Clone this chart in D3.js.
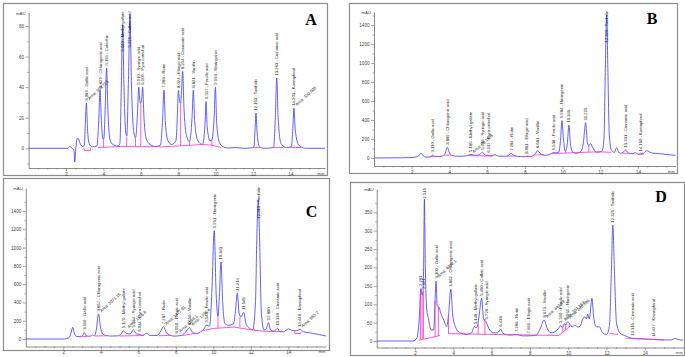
<!DOCTYPE html>
<html>
<head>
<meta charset="utf-8">
<script src="https://cdn.jsdelivr.net/npm/d3@7"></script>
<style>
  body { margin: 0; background: #fff; }
</style>
</head>
<body>
<svg id="chart" width="685" height="357"></svg>
<script>
// ---- panel A ----
var traceA = [[0,0],[2.1,0],[2.2,1.2],[2.3,0.2],[2.42,-1],[2.47,-9],[2.52,-1],[2.6,6.5],[2.68,6],[2.76,3],[2.9,1.2],[2.98,2],
  [3.03,15],[3.09,29.5],[3.15,13],[3.24,3],[3.4,1],[3.65,1.5],
  [3.75,18],[3.82,38],[3.89,18],[3.98,6],[4.02,6],
  [4.1,28],[4.17,52.5],[4.24,25],[4.35,6],[4.5,2.5],[4.75,1.5],[4.88,3],
  [4.96,42],[5.03,81],[5.1,40],[5.2,10],[5.25,8],
  [5.34,45],[5.42,87.4],[5.5,42],[5.62,11],[5.72,7],
  [5.82,22],[5.89,40],[5.95,31],[6.0,29.5],[6.05,33],[6.1,40],[6.17,20],[6.3,6],[6.5,2.5],[6.8,1.2],[7.05,2],
  [7.17,20],[7.24,38],[7.31,18],[7.45,5],[7.65,2.5],[7.88,5],
  [7.95,20],[8.01,37.8],[8.08,31],[8.13,29.5],[8.18,38],[8.24,50.3],[8.31,26],[8.45,8],[8.6,4.4],
  [8.74,20],[8.81,38],[8.88,18],[9.05,5],[9.3,2.5],
  [9.43,15],[9.49,30.6],[9.55,14],[9.7,5],[9.8,5.5],
  [9.92,20],[9.99,40],[10.06,16],[10.2,4],[10.4,1],[10.7,0.2],[11.1,0.5],[11.5,0],[11.9,0.3],[12.05,1],
  [12.11,12],[12.16,23],[12.22,10],[12.35,1],[12.6,0],[13.1,0.5],
  [13.2,22],[13.27,46],[13.34,21],[13.5,3],[13.8,0.5],[14.05,1],
  [14.13,13],[14.19,26.2],[14.26,12],[14.45,2],[14.8,0],[15.85,0]];
var labelsA = [[3.09,29.5,"3.089 - Gallic acid"],[3.82,38,"3.829 - Chlorogenic acid"],[4.17,52.5,"4.155 - Catechin"],
  [5.03,81,"5.040 - Methyl gallate"],[5.42,87.4,"5.429 - Caffeic acid"],[5.89,40,"5.910 - Syringic acid"],
  [6.1,40,"6.109 - Pyro catechol"],[7.24,38,"7.286 - Rutin"],[8.01,37.8,"8.024 - Ellagic acid"],
  [8.24,50.3,"8.254 - Coumaric acid"],[8.81,38,"8.821 - Vanillin"],[9.49,30.6,"9.517 - Ferulic acid"],
  [9.99,40,"9.993 - Naringenin"],[12.16,23,"12.163 - Taxifolin"],[13.27,46,"13.263 - Cinnamic acid"],
  [14.19,26.2,"14.203 - Kaempferol"]];
var areasA = [[3.2,31,"Area: 309.728"],[14.3,27,"Area: 330.505"]];
var baseA = [[[2.95,0],[3.0,-1.5],[3.3,-1.5],[3.3,0.5]],
  [[3.7,0.5],[4.55,1],[4.9,1.2],[6.8,1],[7.1,1],[8.0,1.5],[9.3,2.5],[9.8,2],[10.3,0.5]],
  [[12.0,0.5],[12.4,0.5]],[[13.05,0.5],[13.6,0.5]],[[14.0,0.5],[14.6,0.5]]];
var dropsA = [[4.0,0.8,5.5],[5.25,1.2,7.7],[5.72,1.2,7],[6.0,1.2,29.5],[8.13,1.5,29.5],[8.6,1.8,4.4],[9.8,2,5.5]];
var yMajorA = [0,20,40,60,80];
var yMinorA = [-10,10,30,50,70];

// ---- panel B ----
var traceB = [[0,0],[1.5,2],[2.2,8],[2.38,25],[2.49,49],[2.6,25],[2.75,10],[3.0,12],[3.11,32],[3.22,15],[3.5,15],
  [3.75,40],[3.89,112],[4.0,55],[4.15,25],[4.5,18],[4.9,22],[5.13,38],[5.3,30],[5.45,28],[5.62,40],[5.76,60],
  [5.9,30],[6.06,28],[6.2,22],[6.42,35],[6.6,20],[7.0,18],[7.15,30],[7.27,49],[7.4,28],[7.6,18],[7.95,14],
  [8.1,18],[8.3,15],[8.55,45],[8.68,77],[8.85,40],[9.1,28],[9.35,40],[9.51,56],[9.65,55],[9.8,60],[9.9,200],
  [9.97,393],[10.05,200],[10.15,70],[10.25,140],[10.34,347],[10.42,150],[10.55,60],[10.73,49],[10.9,60],
  [11.02,84],[11.1,150],[11.23,372],[11.32,160],[11.4,130],[11.49,154],[11.6,110],[11.8,60],[12.0,65],
  [12.1,74],[12.2,200],[12.27,900],[12.34,1505],[12.41,900],[12.48,250],[12.6,80],[12.75,60],[12.87,109],
  [12.98,60],[13.09,50],[13.22,60],[13.35,84],[13.5,50],[13.7,45],[13.85,56],[14.0,40],[14.16,42],[14.3,50],
  [14.47,77],[14.7,55],[14.91,49],[15.2,45],[15.6,35],[16,28]];
var labelsB = [[3.11,32,"3.110 - Gallic acid"],[3.89,112,"3.889 - Chlorogenic acid"],[5.13,38,"5.185 - Methyl gallate"],
  [5.76,60,"5.716 - Syringic acid"],[6.06,28,"6.137 - Pyro catechol"],[7.27,49,"7.284 - Rutin"],
  [8.1,18,"8.081 - Ellagic acid"],[8.68,77,"8.681 - Vanillin"],[9.51,56,"9.538 - Ferulic acid"],
  [9.97,393,"9.984 - Naringenin"],[10.34,347,"10.346"],[11.23,372,"11.215"],[12.34,1505,"12.326 - Taxifolin"],
  [13.35,84,"13.331 - Cinnamic acid"],[14.16,42,"14.160 - Kaempferol"]];
var areasB = [[5.25,40,"Area: 80.1685"]];
var baseB = [[[3.0,15],[3.3,18]],[[3.7,30],[4.1,30]],[[5.0,25],[6.3,20]],[[7.05,20],[7.55,22]],[[7.9,14],[8.35,18]],
  [[8.5,30],[9.0,35]],[[9.4,45],[10.5,55],[11.9,65],[12.6,60]],[[13.2,50],[13.5,50]],[[14.0,38],[14.3,40]]];
var dropsB = [[10.17,52,70],[11.4,62,130]];
var yMajorB = [0,200,400,600,800,1000,1200,1400];
var yMinorB = [100,300,500,700,900,1100,1300,1500];

// ---- panel C ----
var traceC = [[0,0],[2.05,0],[2.3,15],[2.42,70],[2.5,128],[2.58,70],[2.7,28],[2.95,25],[3.05,45],[3.12,73],[3.2,40],
  [3.35,30],[3.5,35],[3.57,44],[3.65,32],[3.75,90],[3.88,274],[3.98,130],[4.1,55],[4.31,37],[4.6,32],[4.9,35],
  [5.1,60],[5.2,91],[5.3,70],[5.4,60],[5.55,55],[5.74,99],[5.9,55],[6.06,51],[6.2,40],[6.45,62],[6.6,40],[7.0,38],
  [7.15,70],[7.34,135],[7.5,70],[7.7,40],[7.9,32],[8.05,33],[8.3,40],[8.5,70],[8.72,124],[8.9,70],[9.1,60],
  [9.3,75],[9.5,110],[9.65,153],[9.8,140],[9.92,500],[10.05,1185],[10.15,500],[10.25,250],[10.33,500],
  [10.41,841],[10.5,400],[10.62,170],[10.8,150],[11.07,165],[11.18,300],[11.28,501],[11.38,280],[11.48,240],
  [11.62,292],[11.75,160],[11.87,130],[12.1,100],[12.25,400],[12.32,1100],[12.4,1525],[12.48,1000],[12.56,300],
  [12.7,100],[12.82,110],[12.94,179],[13.05,100],[13.25,85],[13.42,117],[13.55,80],[13.75,80],[14.0,110],
  [14.2,95],[14.45,90],[14.62,106],[14.8,80],[15.2,65],[15.6,50],[16,33]];
var labelsC = [[3.12,73,"3.110 - Gallic acid"],[3.88,274,"3.867 - Chlorogenic acid"],[5.2,91,"5.170 - Methyl gallate"],
  [5.74,99,"5.734 - Syringic acid"],[6.06,51,"6.034 - Pyro catechol"],[7.34,135,"7.287 - Rutin"],
  [8.05,33,"8.050 - Ellagic acid"],[8.72,124,"8.650 - Vanillin"],[9.65,153,"9.549 - Ferulic acid"],
  [10.05,1185,"9.951 - Naringenin"],[10.41,841,"10.343"],[11.28,501,"11.214"],[11.62,292,"11.548"],
  [12.4,1525,"12.319 - Taxifolin"],[12.94,179,"12.880"],[13.42,117,"13.330 - Cinnamic acid"],
  [14.62,106,"14.440 - Kaempferol"]];
var areasC = [[3.98,280,"Area: 3071.15"],[5.45,105,"Area: 1126.6"],[7.45,140,"Area: 1477.91"],
  [8.2,60,"Area: 1188.1"],[8.85,130,"Area: 1236.4"],[14.72,115,"Area: 683.7"]];
var baseC = [[[3.0,25],[3.3,30]],[[3.7,33],[4.3,35]],[[5.0,33],[6.3,38]],[[7.1,36],[7.7,38]],[[8.35,38],[9.0,60]],
  [[9.4,90],[10.0,115],[10.7,125],[11.1,130],[11.9,105],[12.2,95],[12.7,85],[13.6,80]],
  [[14.35,60],[14.65,60],[14.7,80]]];
var dropsC = [[10.25,115,250],[11.42,128,240],[12.2,95,110],[14.35,60,90]];
var yMajorC = [0,200,400,600,800,1000,1200,1400];
var yMinorC = [100,300,500,700,900,1100,1300,1500];

// ---- panel D ----
var traceD = [[0,0],[1.9,0],[2.1,8],[2.22,60],[2.31,143],[2.37,125],[2.42,135],[2.45,200],[2.49,385],[2.54,200],
  [2.6,95],[2.7,61],[2.85,30],[2.98,30],[3.04,100],[3.1,163],[3.16,95],[3.24,93],[3.35,75],[3.5,57],[3.65,39],
  [3.75,70],[3.87,141],[3.97,70],[4.1,40],[4.35,22],[4.7,18],[4.95,22],[5.1,39],[5.18,36],[5.25,39],[5.35,70],
  [5.48,116],[5.58,60],[5.71,52],[5.85,35],[6.1,22],[6.3,22],[6.48,32],[6.6,20],[7.0,16],[7.31,18],[7.6,14],
  [7.92,14],[8.3,15],[8.55,35],[8.74,57],[8.9,35],[9.1,22],[9.3,25],[9.5,35],[9.61,42],[9.7,36],[9.78,47],
  [9.88,44],[9.97,52],[10.1,45],[10.2,38],[10.35,43],[10.5,38],[10.62,40],[10.75,58],[10.88,66],[10.95,60],
  [11.02,73],[11.1,60],[11.24,116],[11.32,70],[11.4,45],[11.5,38],[11.62,39],[11.8,22],[12.0,18],[12.15,40],
  [12.25,180],[12.33,315],[12.42,180],[12.52,50],[12.7,22],[13.0,14],[13.37,7],[13.7,6],[14.2,5],[14.45,4],
  [15.0,3],[15.4,3],[15.57,7],[15.75,4],[16,2]];
var labelsD = [[2.31,143,"2.281"],[2.42,135,"2.421"],[2.49,385,"2.515"],[3.1,163,"3.100 - Gallic acid"],
  [3.87,141,"3.862 - Chlorogenic acid"],[5.18,39,"5.148 - Methyl gallate"],[5.48,116,"5.460 - Caffeic acid"],
  [5.71,52,"5.726 - Syringic acid"],[6.48,32,"6.438"],[7.31,18,"7.286 - Rutin"],[7.92,14,"7.891 - Ellagic acid"],
  [8.74,57,"8.673 - Vanillin"],[9.61,42,"9.590 - Ferulic acid"],[9.97,52,"9.961 - Naringenin"],
  [12.33,315,"12.329 - Taxifolin"],[13.37,7,"13.316 - Cinnamic acid"],[14.45,4,"14.427 - Kaempferol"]];
var areasD = [[3.2,170,"Area: 4072.1"],[8.85,60,"Area: 443.89"],[9.8,52,"Area: 357.183"],[10.05,58,"Area: 280.396"]];
var baseD = [[[2.2,2],[3.3,15]],[[3.75,20],[9.5,15]],[[9.5,15],[10.1,40]],[[12.15,20],[12.6,18]],[[13.0,8],[15.0,3]]];
var dropsD = [[2.28,4,140],[2.37,5,125],[2.44,6,135],[3.05,12,110],[3.22,14,93],[3.75,20,70],
  [5.3,18,45],[5.65,17,60],[9.72,25,36],[9.85,30,45],[10.05,38,45]];
var yMajorD = [0,50,100,150,200,250,300,350];
var yMinorD = [25,75,125,175,225,275,325,375];

var xMajor = [2,4,6,8,10,12,14];
var xMinor = d3.range(0.5, 16, 0.5).filter(function (t) { return t % 2 !== 0; });

var panels = [
  { letter: "A", trace: traceA, labels: labelsA, areas: areasA, base: baseA, drops: dropsA, yMajor: yMajorA, yMinor: yMinorA,
    box: [3, 3, 324, 172], xr: [28.6, 66], xEnd: 325, yd: [0, 80], yr: [148.3, 26], yTop: 12.5, yBot: 168, lp: [311, 25] },
  { letter: "B", trace: traceB, labels: labelsB, areas: areasB, base: baseB, drops: dropsB, yMajor: yMajorB, yMinor: yMinorB,
    box: [349, 3, 328, 170], xr: [374, 411.7], xEnd: 675.5, yd: [0, 1400], yr: [158, 25], yTop: 12, yBot: 166, lp: [652, 24] },
  { letter: "C", trace: traceC, labels: labelsC, areas: areasC, base: baseC, drops: dropsC, yMajor: yMajorC, yMinor: yMinorC,
    box: [3, 178, 326, 172], xr: [25.8, 63.3], xEnd: 326, yd: [0, 1400], yr: [339, 211], yTop: 188, yBot: 346.5, lp: [311.5, 216.5] },
  { letter: "D", trace: traceD, labels: labelsD, areas: areasD, base: baseD, drops: dropsD, yMajor: yMajorD, yMinor: yMinorD,
    box: [350, 182, 334, 173], xr: [376.7, 415], xEnd: 683.5, yd: [0, 350], yr: [341, 212.3], yTop: 189, yBot: 347.5, lp: [661, 201.5] }
];

var sans = "'Liberation Sans', Arial, sans-serif";
var svg = d3.select("#chart");
svg.append("rect").attr("width", 685).attr("height", 357).attr("fill", "#fff");

panels.forEach(function (p) {
  var g = svg.append("g").style("font-family", sans);

  g.append("rect")
    .attr("x", p.box[0] + 0.5).attr("y", p.box[1] + 0.5)
    .attr("width", p.box[2]).attr("height", p.box[3])
    .attr("fill", "none").attr("stroke", "#8c8c8c").attr("stroke-width", 1.2);

  var x = d3.scaleLinear().domain([0, 2]).range(p.xr);
  x.domain([0, x.invert(p.xEnd)]).range([p.xr[0], p.xEnd]);
  var y = d3.scaleLinear().domain(p.yd).range(p.yr);
  y.domain([y.invert(p.yBot), y.invert(p.yTop)]).range([p.yBot, p.yTop]);

  // y axis
  g.append("g")
    .attr("transform", "translate(" + x(0) + ",0)")
    .call(d3.axisLeft(y).tickValues(p.yMajor).tickFormat(d3.format("d"))
      .tickSize(3).tickSizeOuter(0).tickPadding(1.5));
  g.append("g")
    .attr("transform", "translate(" + x(0) + ",0)")
    .call(d3.axisLeft(y).tickValues(p.yMinor.filter(function (v) { return y(v) >= p.yTop; })).tickSize(1.5).tickFormat(""))
    .select(".domain").remove();

  // x axis
  g.append("g")
    .attr("transform", "translate(0," + p.yBot + ")")
    .call(d3.axisBottom(x).tickValues(xMajor).tickFormat(d3.format("d"))
      .tickSize(3).tickSizeOuter(0).tickPadding(1.5));
  g.append("g")
    .attr("transform", "translate(0," + p.yBot + ")")
    .call(d3.axisBottom(x).tickValues(xMinor).tickSize(1.5).tickFormat(""))
    .select(".domain").remove();

  g.selectAll(".domain").attr("stroke", "#6e6e6e").attr("stroke-width", 0.8);
  g.selectAll(".tick line").attr("stroke", "#6e6e6e").attr("stroke-width", 0.6);
  g.selectAll(".tick text").attr("font-size", 4.6).attr("fill", "#444").attr("font-family", sans);

  g.append("text").attr("x", x(0) - 3).attr("y", p.yTop + 2)
    .attr("text-anchor", "end").attr("font-size", 4.3).attr("fill", "#444").text("mAU");
  g.append("text").attr("x", p.xEnd - 0.5).attr("y", p.yBot + 6.5)
    .attr("text-anchor", "end").attr("font-size", 4.3).attr("fill", "#444").text("min");

  // chromatogram
  var line = d3.line()
    .x(function (d) { return x(d[0]); })
    .y(function (d) { return y(d[1]); })
    .curve(d3.curveMonotoneX);
  g.append("path").datum(p.trace)
    .attr("d", line).attr("fill", "none")
    .attr("stroke", "#3a3aff").attr("stroke-width", 0.8);

  // integration baselines
  var straight = d3.line()
    .x(function (d) { return x(d[0]); })
    .y(function (d) { return y(d[1]); });
  p.base.forEach(function (seg) {
    g.append("path").datum(seg).attr("d", straight).attr("fill", "none")
      .attr("stroke", "#ff2fd0").attr("stroke-width", 0.8);
  });
  g.selectAll(".drop").data(p.drops).enter().append("line")
    .attr("x1", function (d) { return x(d[0]); }).attr("x2", function (d) { return x(d[0]); })
    .attr("y1", function (d) { return y(d[1]); }).attr("y2", function (d) { return y(d[2]); })
    .attr("stroke", "#ff2fd0").attr("stroke-width", 0.8);

  // peak labels
  p.labels.forEach(function (d) {
    var t = g.append("text").attr("font-size", 4.2).attr("fill", "#222").text(d[2]);
    var len = t.node().getComputedTextLength();
    var y0 = Math.max(y(d[1]) - 2.5, p.yTop - 1 + len);
    t.attr("transform", "translate(" + (x(d[0]) + 1.5) + "," + y0 + ") rotate(-90)");
  });
  p.areas.forEach(function (d) {
    g.append("text").attr("font-size", 4.2).attr("fill", "#222").text(d[2])
      .attr("transform", "translate(" + (x(d[0]) + 1) + "," + (y(d[1]) - 1) + ") rotate(-42)");
  });

  g.append("text").attr("x", p.lp[0]).attr("y", p.lp[1])
    .attr("text-anchor", "middle")
    .style("font-family", "'Liberation Serif', 'Times New Roman', serif")
    .attr("font-weight", "bold").attr("font-size", 16).attr("fill", "#000").text(p.letter);
});
</script>
</body>
</html>
